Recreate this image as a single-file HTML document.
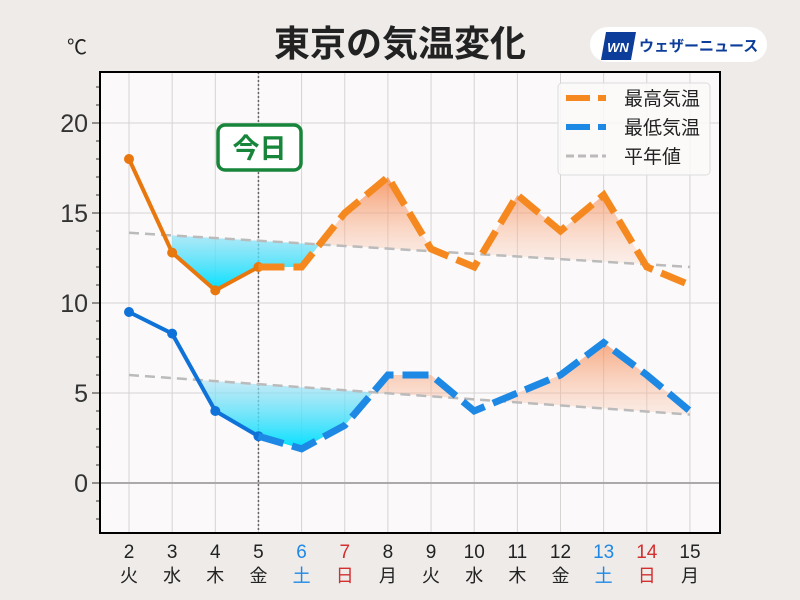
<!DOCTYPE html>
<html><head><meta charset="utf-8"><style>
body{margin:0;background:#eeebe9;font-family:"Liberation Sans","Noto Sans CJK JP",sans-serif}
svg{display:block}
</style></head><body>
<svg id="s" width="800" height="600" xmlns="http://www.w3.org/2000/svg" font-family="Liberation Sans, Noto Sans CJK JP, sans-serif">
<defs>
<linearGradient id="og" x1="0" y1="0" x2="0" y2="1"><stop offset="0" stop-color="#f46a22" stop-opacity="0.85"/><stop offset="1" stop-color="#fbe8e0" stop-opacity="0.1"/></linearGradient>
<linearGradient id="bg" x1="0" y1="1" x2="0" y2="0"><stop offset="0" stop-color="#00e0ff"/><stop offset="0.5" stop-color="#9fe0f5" stop-opacity="0.6"/><stop offset="1" stop-color="#e8eefa" stop-opacity="0.05"/></linearGradient>
</defs>
<rect width="800" height="600" fill="#eeebe9"/>
<rect x="100" y="72" width="620" height="461" fill="#fbf9f9"/>
<g id="grid"></g>
<g id="fills"></g>
<g id="lines"></g>
<rect x="100" y="72" width="620" height="461" fill="none" stroke="#000" stroke-width="2"/>
<text x="400" y="56" text-anchor="middle" font-size="36" font-weight="bold" fill="#222">東京の気温変化</text>
<text x="77" y="54" text-anchor="middle" font-size="20" fill="#222">℃</text>
<rect x="590" y="27" width="177" height="35" rx="17.5" fill="#fff"/>
<polygon points="606,32 636,32 631,60 601,60" fill="#0d3d9a"/>
<text x="618" y="52" text-anchor="middle" font-size="13" font-weight="bold" font-style="italic" fill="#fff">WN</text>
<text x="639" y="51" font-size="15" font-weight="bold" fill="#0d3d9a">ウェザーニュース</text>
<rect x="218" y="125" width="83" height="45" rx="7" fill="#fff" stroke="#17863a" stroke-width="3.5"/>
<text x="259.5" y="158" text-anchor="middle" font-size="27" font-weight="bold" fill="#17863a">今日</text>
<rect x="558" y="83" width="152" height="92" rx="4" fill="#fbf9f9" fill-opacity="0.85" stroke="#ddd"/>
<line x1="566" y1="98" x2="606" y2="98" stroke="#f5891f" stroke-width="6" stroke-dasharray="24,8,8,8"/>
<line x1="566" y1="127" x2="606" y2="127" stroke="#1e88e5" stroke-width="6" stroke-dasharray="24,8,8,8"/>
<line x1="566" y1="156" x2="606" y2="156" stroke="#bbb" stroke-width="3" stroke-dasharray="8,4"/>
<text x="624" y="105" font-size="19" fill="#222">最高気温</text>
<text x="624" y="134" font-size="19" fill="#222">最低気温</text>
<text x="624" y="163" font-size="19" fill="#222">平年値</text>
<g id="labels"></g>
</svg>
<script>
const NS="http://www.w3.org/2000/svg";
function el(p,t,a,txt){const e=document.createElementNS(NS,t);for(const k in a)e.setAttribute(k,a[k]);if(txt!=null)e.textContent=txt;document.getElementById(p).appendChild(e);return e;}
const X=i=>129+43.15*i, Y=v=>483-18*v;
const mx=[18,12.8,10.7,12,12,15,17,13,12,16,14,16,12,11];
const mn=[9.5,8.3,4,2.6,1.9,3.2,6,6,4,5,6,7.8,6,4];
const nmx=i=>13.9-1.9*i/13, nmn=i=>6-2.2*i/13;
const days=["2","3","4","5","6","7","8","9","10","11","12","13","14","15"];
const wd=["火","水","木","金","土","日","月","火","水","木","金","土","日","月"];
for(let i=0;i<14;i++)el("grid","line",{x1:X(i),x2:X(i),y1:72,y2:533,stroke:"#d6d3d3","stroke-width":1});
for(let v=0;v<=20;v+=5)el("grid","line",{x1:100,x2:720,y1:Y(v),y2:Y(v),stroke:v==0?"#aaa":"#d6d3d3","stroke-width":v==0?2:1});
for(let v=-2;v<=22;v++)el("grid","line",{x1:100,x2:v%5==0?92:96,y1:Y(v),y2:Y(v),stroke:"#333","stroke-width":1});
[0,5,10,15,20].forEach(v=>el("labels","text",{x:88,y:Y(v)+9,"text-anchor":"end","font-size":25,fill:"#333"},String(v)));
for(let i=0;i<14;i++){let c=(i==4||i==11)?"#1e88e5":(i==5||i==12)?"#d32f2f":"#222";
el("labels","text",{x:X(i),y:558,"text-anchor":"middle","font-size":19,fill:c},days[i]);
el("labels","text",{x:X(i),y:582,"text-anchor":"middle","font-size":18,fill:c},wd[i]);}
el("grid","line",{x1:X(3),x2:X(3),y1:72,y2:533,stroke:"#666","stroke-width":1.5,"stroke-dasharray":"2,2"});
let cid=0;
function clip(pts){const defs=document.querySelector("defs");const c=document.createElementNS(NS,"clipPath");c.id="c"+(++cid);const p=document.createElementNS(NS,"polygon");p.setAttribute("points",pts);c.appendChild(p);defs.appendChild(c);return "url(#c"+cid+")";}
function fill(d,n,bA,bB,oA,oB){
 let pts=[];for(let i=0;i<14;i++)pts.push(X(i)+","+Y(d[i]));
 for(let i=13;i>=0;i--)pts.push(X(i)+","+Y(n(i)));
 const ny=x=>Y(n((x-129)/43.15));
 const above=(a,b)=>clip(`${a},0 ${b},0 ${b},${ny(b)} ${a},${ny(a)}`);
 const below=(a,b)=>clip(`${a},${ny(a)} ${b},${ny(b)} ${b},600 ${a},600`);
 el("fills","polygon",{points:pts.join(" "),fill:"url(#bg)","clip-path":below(X(bA),X(bB))});
 el("fills","polygon",{points:pts.join(" "),fill:"url(#og)","clip-path":above(X(oA),X(oB))});
}
fill(mx,nmx,1,5,4,13);fill(mn,nmn,1,6,5,13);
el("lines","line",{x1:X(0),y1:Y(nmx(0)),x2:X(13),y2:Y(nmx(13)),stroke:"#bbb","stroke-width":2.5,"stroke-dasharray":"10,6"});
el("lines","line",{x1:X(0),y1:Y(nmn(0)),x2:X(13),y2:Y(nmn(13)),stroke:"#bbb","stroke-width":2.5,"stroke-dasharray":"10,6"});
function series(d,c1,c2){
 let p=[];for(let i=0;i<=3;i++)p.push(X(i)+","+Y(d[i]));
 el("lines","polyline",{points:p.join(" "),fill:"none",stroke:c1,"stroke-width":4,"stroke-linejoin":"round"});
 for(let i=0;i<=3;i++)el("lines","circle",{cx:X(i),cy:Y(d[i]),r:5,fill:c1});
 let q=[];for(let i=3;i<14;i++)q.push(X(i)+","+Y(d[i]));
 el("lines","polyline",{points:q.join(" "),fill:"none",stroke:c2,"stroke-width":7,"stroke-dasharray":"26,9"});
}
series(mx,"#e8770e","#f5891f");
series(mn,"#0f72d8","#1e88e5");
</script>
</body></html>
